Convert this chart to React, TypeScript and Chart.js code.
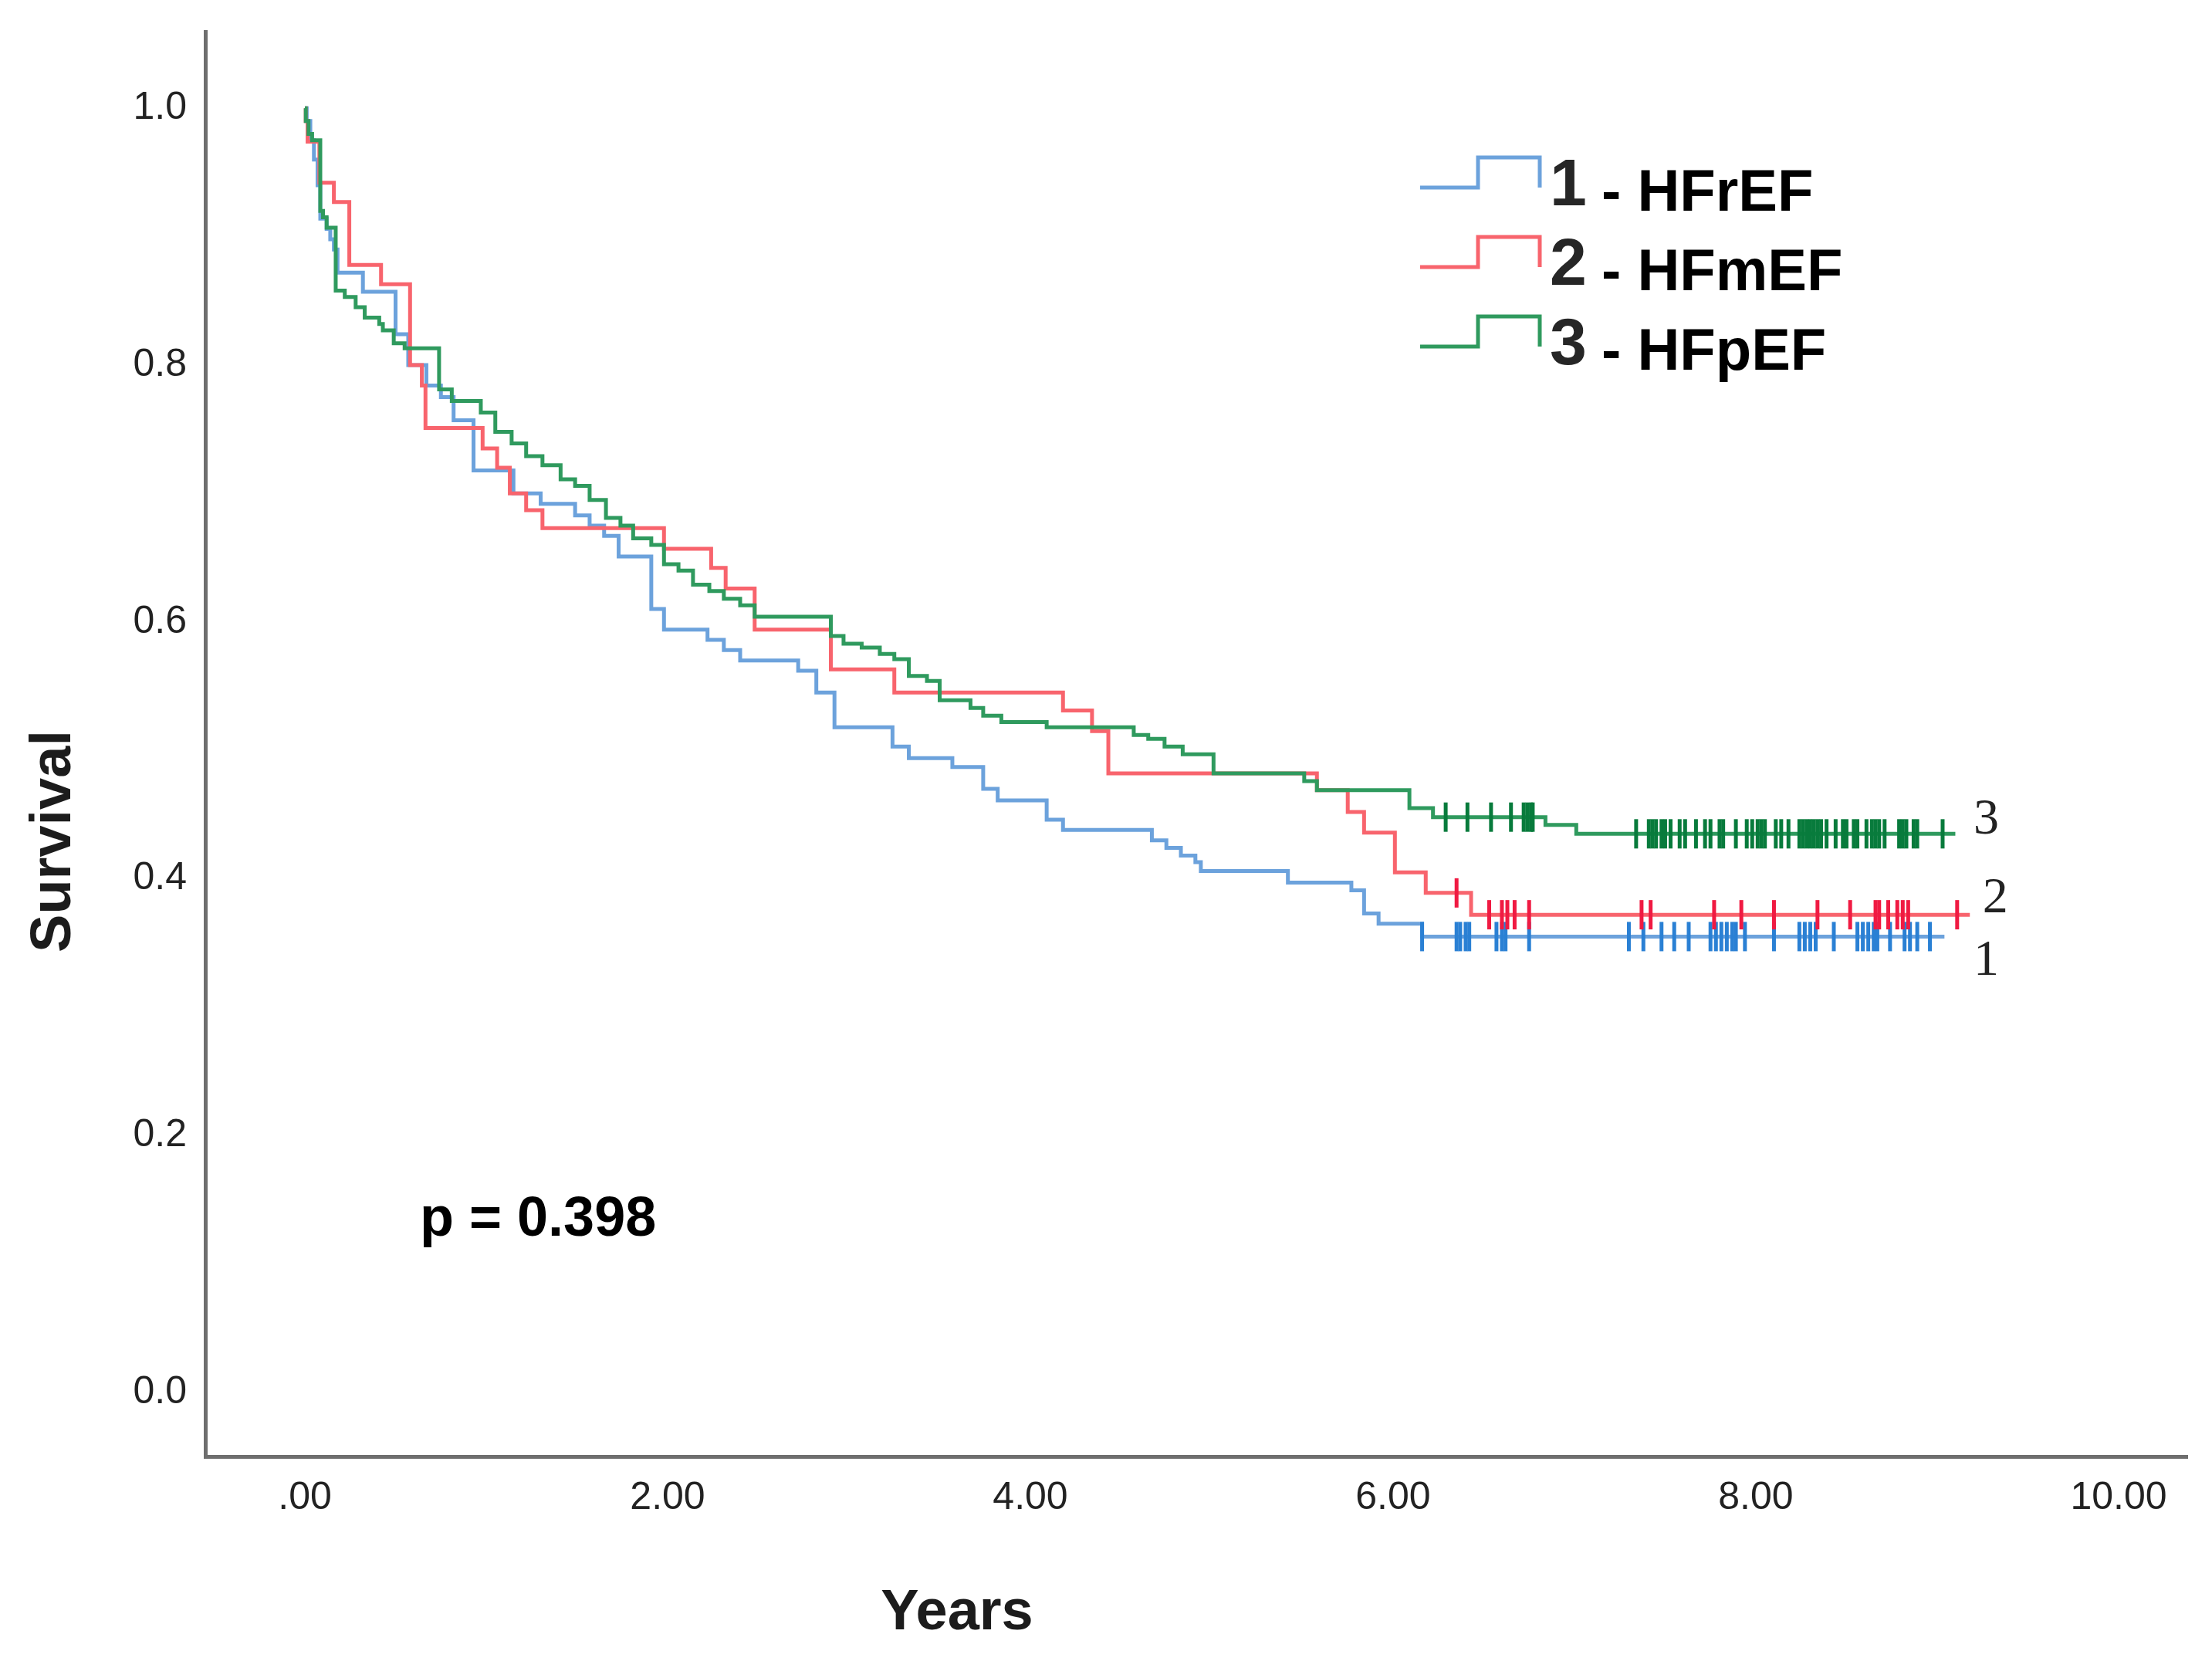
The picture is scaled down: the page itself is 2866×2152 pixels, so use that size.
import React, { useEffect, useRef } from 'react';
import { Chart, registerables } from 'chart.js';

Chart.register(...registerables);

// ---------- data ----------
const seriesNumbers = ['1', '2', '3'];
const seriesNames = ['HFrEF', 'HFmEF', 'HFpEF'];

const hfrefTimes = [0, 0.01, 0.03, 0.05, 0.07, 0.085, 0.12, 0.14, 0.16, 0.18, 0.32, 0.5, 0.57, 0.67, 0.75, 0.82, 0.93, 1.15, 1.3, 1.49, 1.57, 1.65, 1.73, 1.91, 1.98, 2.22, 2.31, 2.4, 2.72, 2.82, 2.92, 3.24, 3.33, 3.57, 3.74, 3.82, 4.09, 4.18, 4.67, 4.75, 4.83, 4.91, 4.94, 5.42, 5.77, 5.84, 5.92, 6.16, 9.04];
const hfrefSurvival = [1.0, 0.99, 0.975, 0.96, 0.94, 0.914, 0.906, 0.898, 0.89, 0.872, 0.857, 0.824, 0.8, 0.784, 0.775, 0.757, 0.718, 0.7, 0.692, 0.683, 0.675, 0.667, 0.651, 0.61, 0.594, 0.586, 0.578, 0.57, 0.562, 0.545, 0.518, 0.503, 0.494, 0.487, 0.47, 0.461, 0.446, 0.438, 0.43, 0.424, 0.418, 0.413, 0.406, 0.397, 0.391, 0.373, 0.365, 0.355, 0.355];
const hfrefCensored = [6.16, 6.35, 6.37, 6.4, 6.42, 6.57, 6.6, 6.62, 6.75, 7.3, 7.38, 7.48, 7.55, 7.63, 7.75, 7.78, 7.81, 7.84, 7.87, 7.89, 7.94, 8.1, 8.24, 8.27, 8.3, 8.33, 8.43, 8.56, 8.59, 8.62, 8.65, 8.67, 8.74, 8.82, 8.85, 8.89, 8.96];

const hfmefTimes = [0, 0.005, 0.015, 0.08, 0.16, 0.245, 0.42, 0.58, 0.645, 0.665, 0.98, 1.06, 1.13, 1.22, 1.31, 1.98, 2.24, 2.32, 2.48, 2.9, 3.25, 4.18, 4.34, 4.43, 5.58, 5.75, 5.84, 6.01, 6.18, 6.43, 9.18];
const hfmefSurvival = [1.0, 0.99, 0.974, 0.942, 0.927, 0.878, 0.863, 0.8, 0.784, 0.751, 0.735, 0.72, 0.7, 0.687, 0.673, 0.657, 0.642, 0.626, 0.594, 0.563, 0.545, 0.531, 0.515, 0.482, 0.469, 0.452, 0.436, 0.405, 0.389, 0.372, 0.372];
const hfmefCensored = [6.35, 6.53, 6.6, 6.63, 6.67, 6.75, 7.37, 7.42, 7.77, 7.92, 8.1, 8.34, 8.52, 8.66, 8.68, 8.73, 8.78, 8.81, 8.84, 9.11];

const hfpefTimes = [0, 0.005, 0.02, 0.04, 0.085, 0.1, 0.12, 0.17, 0.22, 0.28, 0.33, 0.41, 0.43, 0.49, 0.55, 0.74, 0.81, 0.97, 1.05, 1.14, 1.22, 1.31, 1.41, 1.49, 1.57, 1.66, 1.74, 1.81, 1.91, 1.98, 2.06, 2.14, 2.23, 2.31, 2.4, 2.48, 2.9, 2.97, 3.07, 3.17, 3.25, 3.33, 3.43, 3.5, 3.67, 3.74, 3.84, 4.09, 4.57, 4.65, 4.74, 4.84, 5.01, 5.51, 5.58, 6.09, 6.22, 6.84, 7.01, 9.1];
const hfpefSurvival = [1.0, 0.99, 0.98, 0.975, 0.92, 0.915, 0.907, 0.858, 0.853, 0.845, 0.837, 0.832, 0.827, 0.817, 0.813, 0.781, 0.772, 0.763, 0.748, 0.739, 0.729, 0.722, 0.711, 0.706, 0.695, 0.681, 0.675, 0.665, 0.66, 0.645, 0.64, 0.629, 0.624, 0.618, 0.613, 0.604, 0.589, 0.583, 0.58, 0.575, 0.571, 0.558, 0.554, 0.539, 0.533, 0.527, 0.522, 0.518, 0.512, 0.509, 0.503, 0.497, 0.482, 0.476, 0.469, 0.455, 0.448, 0.442, 0.435, 0.435];
const hfpefCensored = [6.29, 6.41, 6.54, 6.65, 6.72, 6.74, 6.76, 6.77, 7.34, 7.41, 7.43, 7.45, 7.48, 7.5, 7.53, 7.58, 7.61, 7.67, 7.72, 7.75, 7.8, 7.82, 7.89, 7.95, 7.98, 8.01, 8.03, 8.05, 8.11, 8.14, 8.18, 8.24, 8.26, 8.28, 8.3, 8.32, 8.34, 8.36, 8.39, 8.44, 8.48, 8.5, 8.54, 8.56, 8.61, 8.64, 8.66, 8.68, 8.71, 8.79, 8.81, 8.83, 8.87, 8.89, 9.03];

const xTickValues = [0, 2, 4, 6, 8, 10];
const xTickLabels = ['.00', '2.00', '4.00', '6.00', '8.00', '10.00'];
const yTickValues = [0, 0.2, 0.4, 0.6, 0.8, 1.0];
const yTickLabels = ['0.0', '0.2', '0.4', '0.6', '0.8', '1.0'];
const xTitle = 'Years';
const yTitle = 'Survival';
const pValueText = 'p = 0.398';

// ---------- styles ----------
const lineColors = ['#6ca2dc', '#f8646d', '#2f9a5e'];
const censorColors = ['#2a80d4', '#f01a42', '#087b3c'];
const SANS = '"Liberation Sans", Arial, sans-serif';
const SERIF = '"Liberation Serif", "Times New Roman", serif';

function survivalAt(times: number[], surv: number[], t: number): number {
  let s = surv[0];
  for (let i = 0; i < times.length; i++) {
    if (times[i] <= t) s = surv[i];
  }
  return s;
}

const seriesTimes = [hfrefTimes, hfmefTimes, hfpefTimes];
const seriesSurv = [hfrefSurvival, hfmefSurvival, hfpefSurvival];
const seriesCensored = [hfrefCensored, hfmefCensored, hfpefCensored];

const annotationPlugin = {
  id: 'kmAnnotations',
  afterDraw(chart: any) {
    const ctx = chart.ctx as CanvasRenderingContext2D;
    const xs = chart.scales.x;
    const ys = chart.scales.y;
    ctx.save();

    // axis titles
    ctx.fillStyle = '#1c1c1c';
    ctx.font = `bold 74px ${SANS}`;
    ctx.textAlign = 'center';
    ctx.textBaseline = 'alphabetic';
    ctx.fillText(xTitle, 1240, 2111);
    ctx.save();
    ctx.translate(91, 1090);
    ctx.rotate(-Math.PI / 2);
    ctx.fillText(yTitle, 0, 0);
    ctx.restore();

    // p value
    ctx.fillStyle = '#000000';
    ctx.font = `bold 72px ${SANS}`;
    ctx.textAlign = 'left';
    ctx.fillText(pValueText, 544, 1601);

    // legend
    for (let i = 0; i < 3; i++) {
      const base = 266 + i * 103;
      const low = base - 23;
      const high = low - 39;
      ctx.strokeStyle = lineColors[i];
      ctx.lineWidth = 5;
      ctx.lineJoin = 'miter';
      ctx.beginPath();
      ctx.moveTo(1840, low);
      ctx.lineTo(1915, low);
      ctx.lineTo(1915, high);
      ctx.lineTo(1995, high);
      ctx.lineTo(1995, low);
      ctx.stroke();
      ctx.fillStyle = '#262626';
      ctx.font = `bold 86px ${SANS}`;
      ctx.textAlign = 'left';
      ctx.fillText(seriesNumbers[i], 2008, base);
      ctx.fillStyle = '#000000';
      ctx.font = `bold 76px ${SANS}`;
      ctx.fillText('- ' + seriesNames[i], 2075, base + 7);
    }

    // end labels
    ctx.fillStyle = '#222222';
    ctx.font = `66px ${SERIF}`;
    ctx.textAlign = 'left';
    const endOffsets = [50, -3, 0];
    const endX = [9.2, 9.25, 9.2];
    for (let i = 0; i < 3; i++) {
      const s = seriesSurv[i];
      const yPix = ys.getPixelForValue(s[s.length - 1]) + endOffsets[i];
      ctx.fillText(seriesNumbers[i], xs.getPixelForValue(endX[i]), yPix);
    }
    ctx.restore();
  },
};

export default function App() {
  const canvasRef = useRef<HTMLCanvasElement | null>(null);

  useEffect(() => {
    document.body.style.margin = '0';
    document.body.style.overflow = 'hidden';
    const canvas = canvasRef.current;
    if (!canvas) return;

    const lineSets = [2, 1, 0].map((i) => ({
      type: 'line' as const,
      label: seriesNames[i],
      data: seriesTimes[i].map((t, k) => ({ x: t, y: seriesSurv[i][k] })),
      borderColor: lineColors[i],
      borderWidth: 5,
      stepped: 'before' as const,
      pointRadius: 0,
      fill: false,
      tension: 0,
    }));
    const censorSets = [2, 1, 0].map((i) => ({
      type: 'scatter' as const,
      label: seriesNames[i] + ' censored',
      data: seriesCensored[i].map((t) => ({ x: t, y: survivalAt(seriesTimes[i], seriesSurv[i], t) })),
      borderColor: censorColors[i],
      backgroundColor: censorColors[i],
      pointStyle: 'line' as const,
      rotation: 90,
      radius: 19,
      pointRadius: 19,
      borderWidth: 5,
      showLine: false,
    }));

    const chart = new Chart(canvas, {
      type: 'line',
      data: { datasets: [...censorSets, ...lineSets] as any },
      options: {
        animation: false,
        responsive: false,
        maintainAspectRatio: false,
        layout: { padding: { left: 0, top: 41, right: 32, bottom: 0 } },
        plugins: { legend: { display: false }, tooltip: { enabled: false }, title: { display: false } },
        scales: {
          x: {
            type: 'linear',
            min: -0.549,
            max: 10.379,
            grid: { display: false, drawTicks: false },
            border: { display: true, color: '#6e6e6e', width: 5 },
            afterBuildTicks: (scale: any) => {
              scale.ticks = xTickValues.map((v) => ({ value: v }));
            },
            afterFit: (scale: any) => {
              scale.height = 265;
              scale.paddingLeft = 0;
              scale.paddingRight = 0;
              scale.paddingTop = 0;
              scale.paddingBottom = 0;
            },
            ticks: {
              padding: 24,
              color: '#222222',
              font: { family: SANS, size: 50 },
              maxRotation: 0,
              autoSkip: false,
              callback: (_v: any, idx: number) => xTickLabels[idx],
            },
          },
          y: {
            type: 'linear',
            min: -0.0498,
            max: 1.0596,
            grid: { display: false, drawTicks: false },
            border: { display: true, color: '#6e6e6e', width: 5 },
            afterBuildTicks: (scale: any) => {
              scale.ticks = yTickValues.map((v) => ({ value: v }));
            },
            afterFit: (scale: any) => {
              scale.width = 266;
              scale.paddingLeft = 0;
              scale.paddingRight = 0;
              scale.paddingTop = 0;
              scale.paddingBottom = 0;
            },
            ticks: {
              padding: 24,
              color: '#222222',
              font: { family: SANS, size: 50 },
              autoSkip: false,
              callback: (_v: any, idx: number) => yTickLabels[idx],
            },
          },
        },
      },
      plugins: [annotationPlugin],
    } as any);

    return () => chart.destroy();
  }, []);

  return (
    <div style={{ width: 2866, height: 2152, background: '#ffffff' }}>
      <canvas ref={canvasRef} width={2866} height={2152} style={{ display: 'block', width: 2866, height: 2152 }} />
    </div>
  );
}
